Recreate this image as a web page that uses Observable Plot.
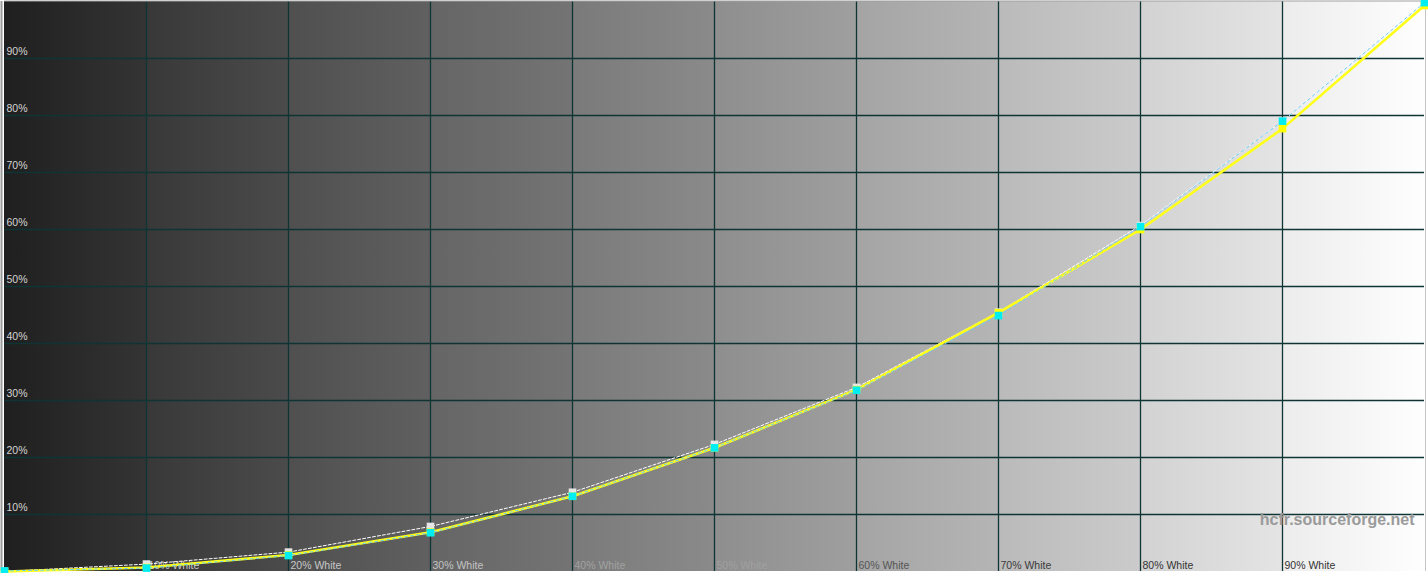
<!DOCTYPE html>
<html>
<head>
<meta charset="utf-8">
<script src="https://cdn.jsdelivr.net/npm/d3@7"></script>
<script src="https://cdn.jsdelivr.net/npm/@observablehq/plot@0.6"></script>
<style>
  html, body { margin: 0; padding: 0; background: #ffffff; overflow: hidden; }
  #chart svg { display: block; }
</style>
</head>
<body>
<div id="chart"></div>
<script>
// ---- data ----
const stimulus = [0, 10, 20, 30, 40, 50, 60, 70, 80, 90, 100];
const measured = [0, 0.7, 2.9, 6.9, 13.2, 21.7, 31.9, 45.4, 60.0, 77.7, 99.3];   // yellow
const reference = [0.1, 0.6, 2.8, 6.8, 13.2, 21.7, 31.8, 44.9, 60.5, 79.0, 99.8]; // cyan
const target = [0, 1.3, 3.4, 7.9, 13.9, 22.3, 32.3, 45.5, 60.7, 79.0, 100];      // white dashed
const gridTicks = [10, 20, 30, 40, 50, 60, 70, 80, 90];
const yTickLabels = ["10%", "20%", "30%", "40%", "50%", "60%", "70%", "80%", "90%"];
const xTickLabels = ["10% White", "20% White", "30% White", "40% White", "50% White", "60% White", "70% White", "80% White", "90% White"];
const bandStarts = [0, 10, 20, 30, 40, 50, 60, 70, 80, 90];
const watermark = "hcfr.sourceforge.net";

// ---- styles ----
const bandFrom = ["#1f1f1f", "#383838", "#4f4f4f", "#656565", "#7a7a7a", "#8e8e8e", "#a4a4a4", "#bababa", "#d2d2d2", "#ececec"];
const bandTo   = ["#343434", "#4b4b4b", "#606060", "#747474", "#8a8a8a", "#9f9f9f", "#b5b5b5", "#cbcbcb", "#e4e4e4", "#fefefe"];
const xLabelColor = ["#c8c8c8", "#c8c8c8", "#c4c4c4", "#a2a2a2", "#a0a0a0", "#555555", "#3a3a3a", "#333333", "#333333"];
const gridColor = "#0f3434";

const series = (ys) => stimulus.map((x, i) => ({x, y: ys[i]}));
const bands = bandStarts.map((s, i) => ({x1: s, x2: s + 10, i}));
const yLabs = gridTicks.map((v, i) => ({v, t: yTickLabels[i]}));
const xLabs = gridTicks.map((v, i) => ({v, t: xTickLabels[i], c: xLabelColor[i]}));

const font = "'Liberation Sans', Arial, sans-serif";

const chart = Plot.plot({
  width: 1428,
  height: 573,
  marginLeft: 4,
  marginRight: 4,
  marginTop: 1,
  marginBottom: 2,
  x: {domain: [0, 100], axis: null},
  y: {domain: [0, 100], axis: null},
  color: {type: "identity"},
  style: {fontFamily: font, background: "#ffffff", overflow: "visible"},
  marks: [
    Plot.rect(bands, {x1: "x1", x2: "x2", y1: 0, y2: 100, fill: d => `url(#band${d.i})`, inset: 0}),
    Plot.ruleX(gridTicks, {x: d => d, stroke: gridColor, strokeWidth: 1.3}),
    Plot.ruleY(gridTicks, {y: d => d, stroke: gridColor, strokeWidth: 1.3}),
    Plot.ruleX([0], {x: d => d, dx: -3, stroke: "#9a9a9a", strokeWidth: 2}),
    Plot.ruleX([100], {x: d => d, dx: 1, stroke: "#c4c4c4", strokeWidth: 1}),
    Plot.ruleY([100], {y: d => d, dy: -0.5, stroke: "#a0a0a0", strokeWidth: 1}),
    Plot.text(yLabs, {x: 0, y: "v", text: "t", dx: 2, dy: -7, textAnchor: "start", fill: "#d4d4d4", fontSize: 10.5}),
    Plot.text(xLabs, {x: "v", y: 0, text: "t", dx: 2, dy: -6, textAnchor: "start", fill: "c", fontSize: 10.5}),
    Plot.text([watermark], {frameAnchor: "bottom-right", text: d => d, dx: -10, dy: -47, textAnchor: "end", fill: "#9a9a9a", fontSize: 16, fontWeight: "bold"}),
    // white dashed target curve
    Plot.line(series(target), {x: "x", y: "y", stroke: "#ffffff", strokeWidth: 1, strokeDasharray: "3,2"}),
    Plot.dot(series(target), {x: "x", y: "y", symbol: "square", r: 4.3, fill: "#e6e6e6", stroke: "none"}),
    // yellow measured
    Plot.line(series(measured), {x: "x", y: "y", stroke: "#ffff1a", strokeWidth: 2.6}),
    Plot.dot(series(measured), {x: "x", y: "y", symbol: "square", r: 4.3, fill: "#ffff00", stroke: "none"}),
    // cyan reference
    Plot.line(series(reference), {x: "x", y: "y", stroke: "#6fcff5", strokeWidth: 1, strokeDasharray: "3,3"}),
    Plot.dot(series(reference), {x: "x", y: "y", symbol: "square", r: 4.3, fill: "#00eef2", stroke: "none"})
  ]
});

const svg = d3.select(chart);
const defs = svg.insert("defs", ":first-child");
bands.forEach((b, i) => {
  const g = defs.append("linearGradient").attr("id", `band${i}`).attr("x1", "0").attr("x2", "1").attr("y1", "0").attr("y2", "0");
  g.append("stop").attr("offset", "0").attr("stop-color", bandFrom[i]);
  g.append("stop").attr("offset", "1").attr("stop-color", bandTo[i]);
});

document.getElementById("chart").appendChild(chart);
</script>
</body>
</html>
